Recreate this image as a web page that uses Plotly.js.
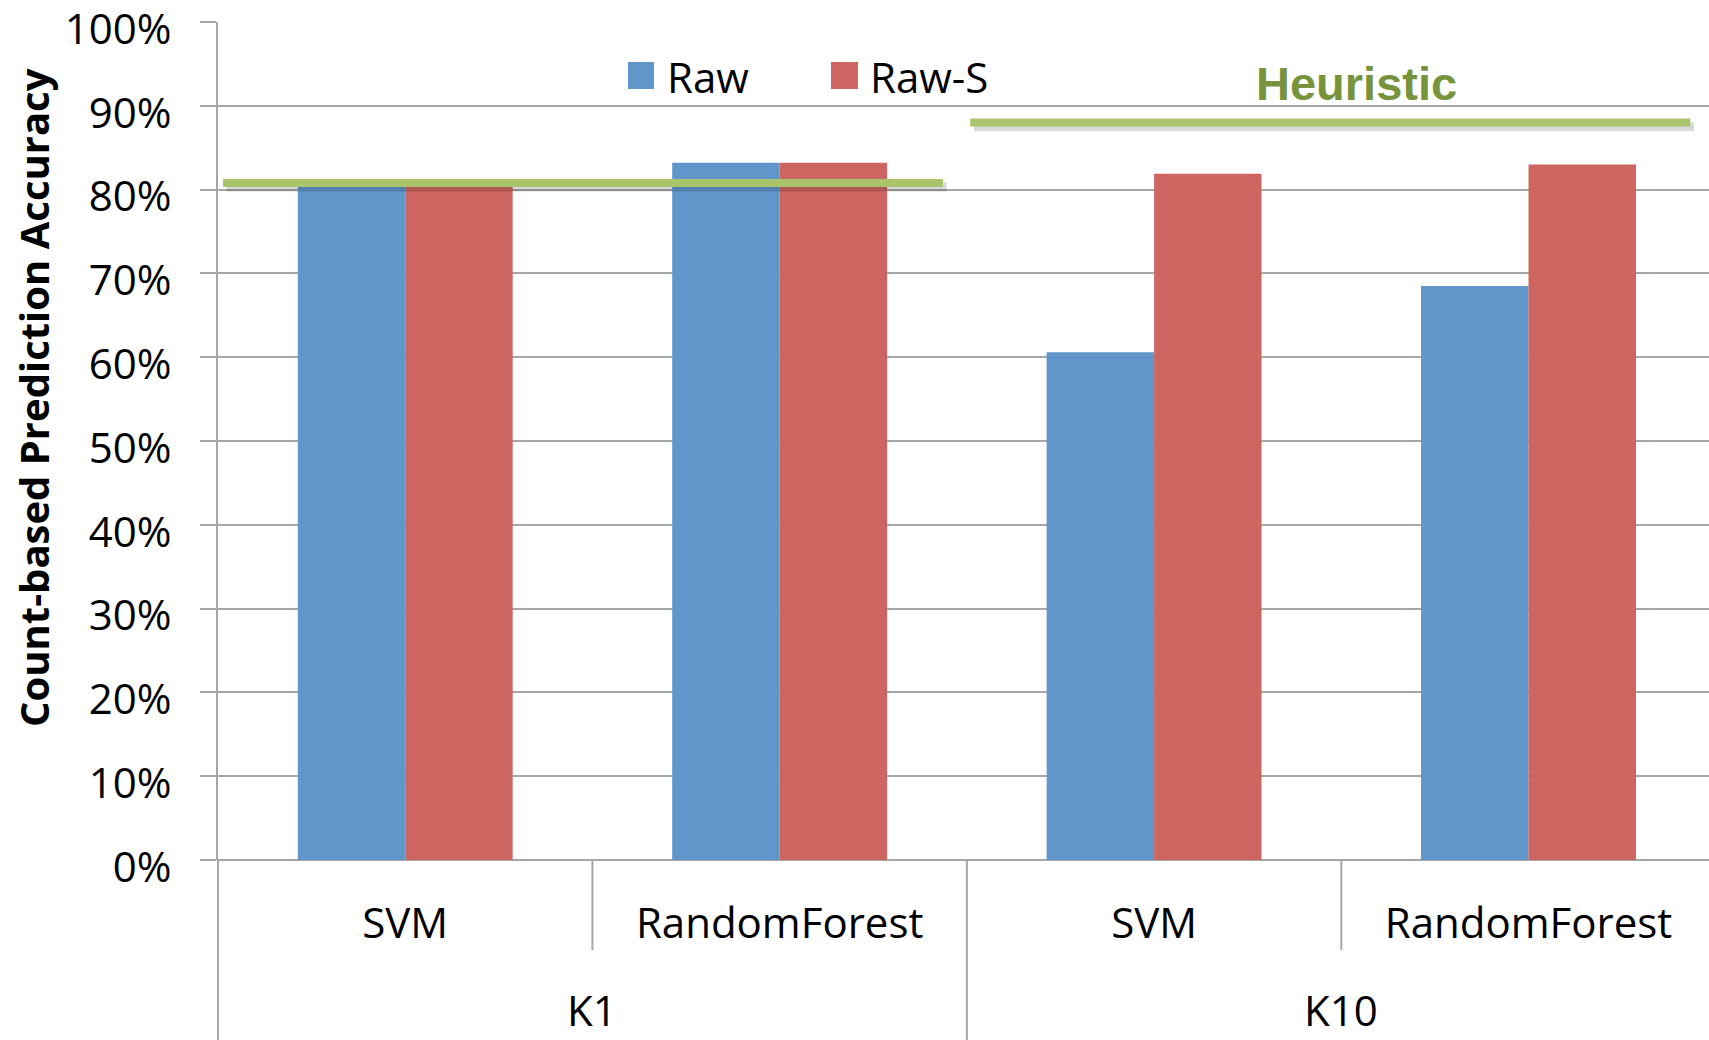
<!DOCTYPE html>
<html>
<head>
<meta charset="utf-8">
<script src="https://cdn.plot.ly/plotly-3.0.1.min.js"></script>
<style>html,body{margin:0;padding:0;background:#fff;}#chart{width:1709px;height:1040px;}</style>
</head>
<body>
<div id="chart"></div>
<script>
// ---- data ----
const groups = ["K1", "K10"];
const methods = ["SVM", "RandomForest", "SVM", "RandomForest"];
const methodGroup = ["K1", "K1", "K10", "K10"];
const seriesNames = ["Raw", "Raw-S"];
const rawValues = [80.3, 83.2, 60.6, 68.5];
const rawSValues = [80.3, 83.2, 81.9, 83.0];
const heuristicLabel = "Heuristic";
const heuristicValues = [80.8, 88.0];   // per group (K1, K10)
const yTickVals = [0, 10, 20, 30, 40, 50, 60, 70, 80, 90, 100];
const yTickText = yTickVals.map(v => v + "%");
const yTitle = "Count-based Prediction Accuracy";

// ---- styles / layout constants ----
const W = 1709, H = 1040;
const M = {l: 218, r: 0, t: 22, b: 180};
const PW = W - M.l - M.r, PH = H - M.t - M.b;
const colors = ["#6096C9", "#CD6560"];
const green = "#A9C46B";
const gray = "#A6A6A6";
const FONT = "'Open Sans', 'Noto Sans', sans-serif";
const FS = 42;
const xRange = [-0.5, 3.482];
const heuristicSpans = [[-0.487, 1.436], [1.509, 3.432]];

const px2x = p => (p - M.l) / PW;          // pixel -> paper x
const px2y = p => (H - M.b - p) / PH;      // pixel -> paper y
const xIdx = methods.map((_, i) => i);

const traces = [rawValues, rawSValues].map((vals, k) => ({
  type: "bar",
  name: seriesNames[k],
  x: xIdx,
  y: vals,
  marker: {color: colors[k], line: {width: 0}},
  showlegend: false,
  hoverinfo: "skip"
}));

const shapes = [];
const annotations = [];

// heuristic lines (with soft shadow)
heuristicValues.forEach((v, g) => {
  const [a, b] = heuristicSpans[g];
  shapes.push({type: "line", xref: "x", yref: "y", x0: a + 0.01, x1: b + 0.01, y0: v - 0.5, y1: v - 0.5,
    line: {color: "rgba(0,0,0,0.15)", width: 9}, layer: "above"});
  shapes.push({type: "line", xref: "x", yref: "y", x0: a, x1: b, y0: v, y1: v,
    line: {color: green, width: 8}, layer: "above"});
});

// x-axis group dividers
const shortDivY = px2y(950), longDivY = px2y(H);
[0.5, 2.5].forEach(x => shapes.push({type: "line", xref: "x", yref: "paper", x0: x, x1: x, y0: 0, y1: shortDivY,
  line: {color: gray, width: 2}}));
shapes.push({type: "line", xref: "x", yref: "paper", x0: 1.5, x1: 1.5, y0: 0, y1: longDivY, line: {color: gray, width: 2}});
shapes.push({type: "line", xref: "paper", yref: "paper", x0: 0, x1: 0, y0: 0, y1: longDivY, line: {color: gray, width: 2}});

// group labels
groups.forEach(g => {
  const idx = methodGroup.map((m, i) => m === g ? i : null).filter(i => i !== null);
  const mid = (idx[0] + idx[idx.length - 1]) / 2;
  annotations.push({xref: "x", yref: "paper", x: mid, y: px2y(1039), text: g, showarrow: false,
    xanchor: "center", yanchor: "bottom", borderpad: 0, font: {family: FONT, size: FS, color: "#000"}});
});

// custom legend
const legendPos = [{sq: [628, 654], tx: 665}, {sq: [831, 858], tx: 868}];
seriesNames.forEach((n, k) => {
  shapes.push({type: "rect", xref: "paper", yref: "paper", x0: px2x(legendPos[k].sq[0]), x1: px2x(legendPos[k].sq[1]),
    y0: px2y(89), y1: px2y(62), fillcolor: colors[k], line: {width: 0}});
  annotations.push({xref: "paper", yref: "paper", x: px2x(legendPos[k].tx), y: px2y(76), text: n, showarrow: false,
    xanchor: "left", yanchor: "middle", font: {family: FONT, size: FS, color: "#000"}});
});

// heuristic label
annotations.push({xref: "paper", yref: "paper", x: px2x(1356), y: px2y(84), text: "<b>" + heuristicLabel + "</b>",
  showarrow: false, xanchor: "center", yanchor: "middle",
  font: {family: "'Liberation Sans', Arial, sans-serif", size: 47, color: "#77933C"}});

// y-axis title
annotations.push({xref: "paper", yref: "paper", x: px2x(33), y: px2y(398), text: "<b>" + yTitle + "</b>",
  textangle: -90, showarrow: false, xanchor: "center", yanchor: "middle",
  font: {family: FONT, size: 40, color: "#000"}});

const layout = {
  width: W, height: H,
  margin: M,
  paper_bgcolor: "#fff", plot_bgcolor: "#fff",
  barmode: "group", bargap: 0.426, bargroupgap: 0,
  showlegend: false,
  xaxis: {
    range: xRange, tickvals: xIdx, ticktext: methods,
    showgrid: false, zeroline: false, showline: false, ticks: "",
    tickfont: {family: FONT, size: FS, color: "#000"}, ticklabelstandoff: 35,
    ticklabeloverflow: "allow",
    fixedrange: true
  },
  yaxis: {
    range: [0, 100], tickvals: yTickVals, ticktext: yTickText,
    showgrid: true, gridcolor: gray, gridwidth: 2,
    zeroline: true, zerolinecolor: gray, zerolinewidth: 2,
    showline: true, linecolor: gray, linewidth: 2,
    ticks: "outside", ticklen: 16, tickcolor: gray, tickwidth: 2,
    ticklabelstandoff: 20, ticklabelshift: 7, ticklabeloverflow: "allow",
    tickfont: {family: FONT, size: FS, color: "#000"},
    fixedrange: true
  },
  shapes: shapes,
  annotations: annotations
};

Plotly.newPlot("chart", traces, layout, {displayModeBar: false, staticPlot: true});
</script>
</body>
</html>
